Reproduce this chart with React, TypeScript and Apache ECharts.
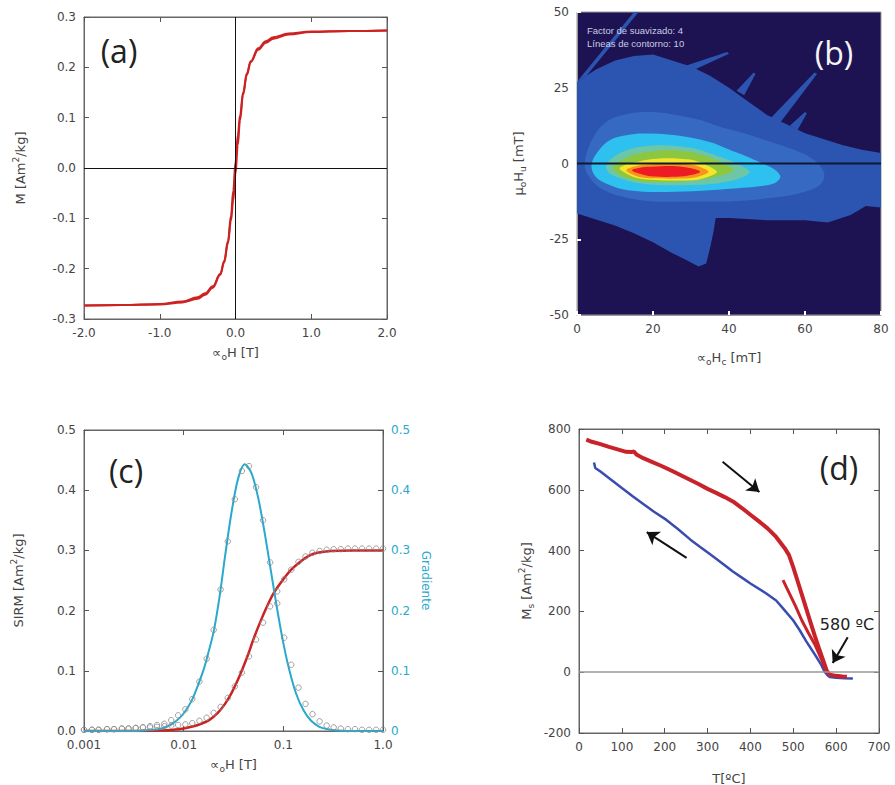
import React, { useEffect, useRef } from "react";
import * as echarts from "echarts";

// ---------- Panel (a): hysteresis loop ----------
const aH = [-2, -1.5, -1.0, -0.7, -0.5, -0.4, -0.3, -0.2, -0.15, -0.1, -0.06, -0.03, 0, 0.03, 0.06, 0.1, 0.15, 0.2, 0.3, 0.4, 0.5, 0.7, 1.0, 1.5, 2];
const aMDown = [-0.273, -0.272, -0.27, -0.265, -0.257, -0.249, -0.235, -0.21, -0.185, -0.145, -0.095, -0.045, 0.012, 0.065, 0.105, 0.15, 0.188, 0.212, 0.238, 0.252, 0.26, 0.267, 0.271, 0.272, 0.273];
const aMUp = [-0.273, -0.272, -0.271, -0.267, -0.26, -0.252, -0.238, -0.212, -0.188, -0.15, -0.105, -0.065, -0.012, 0.045, 0.095, 0.145, 0.185, 0.21, 0.235, 0.249, 0.257, 0.265, 0.27, 0.272, 0.273];

// ---------- Panel (b): FORC diagram contour levels (Hc, Hu in mT) ----------
const bOuter = [[0, 27], [5, 31], [10, 34], [15, 35.5], [20, 36], [25, 34], [30, 32], [35, 29], [40, 25], [45, 20.5], [50, 16], [55, 13], [60, 10], [65, 8], [70, 6], [75, 4.5], [80, 3.5], [80, -14.5], [76, -14], [72, -17], [66, -19.5], [60, -18.7], [50, -18.7], [40, -18], [36.5, -18], [36, -22], [35, -28], [34, -33], [32, -34], [29, -32], [25, -29.5], [20, -26], [15, -23], [10, -20.5], [5, -18.5], [0, -16.5]];
const bStreakA = [[0, 27], [15, 50], [16.2, 50], [2.5, 29]];
const bStreakB = [[51, 15], [62.5, 30], [63.2, 29.6], [53.5, 13.5]];
const bStreakC = [[28, 32], [39.5, 36.8], [40, 36.2], [31, 31]];
const bStreakD = [[42, 24], [46.5, 30], [47, 29.6], [44, 22.5]];
const bStreakE = [[56, 12.5], [60, 17], [60.5, 16.6], [58, 11]];
const bLevel2 = [[2, 0], [4, 8], [8, 14], [14, 16.5], [20, 17], [26, 16], [32, 14.5], [38, 12], [44, 10], [50, 7.5], [56, 5], [62, 1.5], [65, -3], [64, -7], [58, -10], [50, -11.5], [40, -12.5], [30, -12.5], [20, -12.5], [12, -11], [6, -8], [3, -4]];
const bLevel3 = [[3.8, -0.5], [5.5, 4], [8.6, 7.7], [13, 9.3], [17.4, 9.9], [26, 9.3], [34.9, 7.1], [40, 4.6], [43.7, 2.8], [48.9, 0], [52, -2], [53.5, -4.4], [52, -6.5], [48, -7.5], [43.7, -8], [34.9, -8.8], [26, -9.3], [17.4, -9.3], [12, -8.5], [8.6, -7.1], [5, -4.5]];
const bLevel4 = [[7.7, -0.5], [10, 2.5], [13, 4.4], [17, 5.5], [21.7, 6], [26, 5.8], [30.5, 5], [34, 3.8], [37.5, 2.2], [42, 0], [45.4, -2.7], [43, -4.8], [39.3, -6], [35, -6.8], [30.5, -7.1], [21.7, -7.1], [17, -6.6], [13, -5.5], [8.6, -3.3]];
const bLevel5 = [[9.4, -1.1], [12, 1.2], [14.9, 2.8], [18.5, 3.8], [22.8, 4.4], [27, 4.2], [31.6, 3.3], [36, 1.5], [39, -0.2], [41.2, -2.2], [38.5, -3.8], [34.9, -4.9], [30, -5.7], [26, -6], [17.4, -6], [14, -5.2], [11.2, -3.8]];
const bLevel6 = [[11.2, -1.6], [13, -0.3], [15.8, 0.5], [19, 1.3], [22.8, 1.7], [27, 1.6], [30.7, 1.1], [34, -0.5], [36.8, -2.8], [34, -4.6], [30.7, -5.5], [21.7, -5.5], [17, -5.1], [14.7, -4.4], [12.5, -3]];
const bLevel7 = [[13, -2.2], [15, -1], [17.4, -0.5], [24.4, 0], [30.7, -0.5], [33, -1.5], [34.6, -2.7], [33, -3.9], [30.7, -4.7], [25, -5], [21.7, -4.9], [17, -4.6], [14.6, -3.6]];
const bLevel8 = [[14.5, -2.2], [16.5, -1.4], [19.3, -1.1], [26.1, -0.9], [30, -1.6], [32.4, -2.7], [30, -3.8], [26.1, -4.4], [19.3, -4.2], [16.5, -3.4]];
const bPolys = [bOuter, bStreakA, bStreakB, bStreakC, bStreakD, bStreakE, bLevel2, bLevel3, bLevel4, bLevel5, bLevel6, bLevel7, bLevel8];
const bNotes = ["Factor de suavizado: 4", "Líneas de contorno: 10"];

// ---------- Panel (c): IRM acquisition + gradient ----------
const cFitH = [0.001, 0.003, 0.006, 0.009, 0.012, 0.015, 0.018, 0.022, 0.026, 0.03, 0.035, 0.04, 0.045, 0.05, 0.06, 0.07, 0.08, 0.1, 0.12, 0.15, 0.18, 0.22, 0.3, 0.5, 1.0];
const cIrmFit = [0, 0, 0.001, 0.003, 0.007, 0.012, 0.018, 0.03, 0.045, 0.062, 0.085, 0.108, 0.13, 0.152, 0.185, 0.21, 0.229, 0.252, 0.268, 0.282, 0.291, 0.296, 0.299, 0.3, 0.3];
const cGradH = [0.001, 0.003, 0.005, 0.006, 0.007, 0.008, 0.009, 0.01, 0.012, 0.014, 0.016, 0.018, 0.02, 0.023, 0.026, 0.03, 0.035, 0.041, 0.048, 0.056, 0.065, 0.075, 0.087, 0.1, 0.115, 0.135, 0.16, 0.19, 0.23, 0.28, 0.35, 0.5, 1.0];
const cGradFit = [0, 0, 0.002, 0.004, 0.008, 0.014, 0.021, 0.029, 0.05, 0.077, 0.104, 0.135, 0.165, 0.225, 0.29, 0.36, 0.418, 0.443, 0.428, 0.387, 0.329, 0.266, 0.201, 0.146, 0.101, 0.061, 0.034, 0.017, 0.007, 0.003, 0.001, 0, 0];
const cPtH = [0.001, 0.0012, 0.0014, 0.0017, 0.002, 0.0024, 0.0028, 0.0033, 0.0039, 0.0046, 0.0054, 0.0064, 0.0075, 0.0088, 0.0104, 0.0122, 0.0144, 0.017, 0.02, 0.0235, 0.0277, 0.0326, 0.0384, 0.0452, 0.0532, 0.0626, 0.0737, 0.0868, 0.102, 0.12, 0.142, 0.167, 0.196, 0.231, 0.272, 0.32, 0.377, 0.444, 0.523, 0.616, 0.725, 0.853, 1.0];
const cIrmPts = [0.002, 0.002, 0.002, 0.003, 0.003, 0.004, 0.004, 0.005, 0.006, 0.006, 0.007, 0.008, 0.009, 0.01, 0.011, 0.013, 0.017, 0.022, 0.03, 0.04, 0.055, 0.074, 0.097, 0.124, 0.152, 0.18, 0.207, 0.232, 0.252, 0.268, 0.281, 0.29, 0.296, 0.299, 0.301, 0.302, 0.302, 0.303, 0.303, 0.303, 0.303, 0.303, 0.303];
const cGradPts = [0.002, 0.002, 0.002, 0.003, 0.003, 0.004, 0.004, 0.005, 0.006, 0.008, 0.01, 0.012, 0.018, 0.026, 0.036, 0.053, 0.082, 0.12, 0.168, 0.235, 0.315, 0.385, 0.432, 0.44, 0.405, 0.35, 0.28, 0.212, 0.155, 0.11, 0.072, 0.045, 0.028, 0.016, 0.009, 0.006, 0.004, 0.003, 0.003, 0.002, 0.002, 0.002, 0.002];
const cXTickLabels = ["0.001", "0.01", "0.1", "1.0"];

// ---------- Panel (d): thermomagnetic curve ----------
const dHeatT = [17, 30, 50, 70, 90, 110, 122, 128, 135, 150, 170, 190, 204, 220, 240, 260, 280, 300, 320, 340, 360, 380, 400, 420, 440, 460, 480, 490, 500, 510, 520, 530, 540, 550, 560, 570, 578, 585, 600, 615, 625];
const dHeatM = [765, 758, 750, 741, 733, 725, 724, 726, 715, 704, 692, 680, 671, 660, 646, 632, 618, 603, 590, 576, 561, 540, 518, 496, 473, 445, 408, 385, 345, 300, 255, 210, 165, 120, 78, 38, 5, -8, -12, -14, -15];
const dHeat2T = [476, 490, 505, 520, 535, 550, 565, 577];
const dHeat2M = [303, 262, 218, 170, 130, 92, 45, 2];
const dCoolT = [35, 38, 50, 75, 100, 126, 150, 175, 204, 230, 260, 282, 310, 340, 359, 380, 400, 437, 460, 476, 500, 515, 530, 554, 565, 573, 580, 585, 600, 620, 639];
const dCoolM = [690, 672, 660, 633, 606, 578, 553, 528, 501, 472, 436, 413, 384, 352, 331, 311, 292, 259, 236, 210, 170, 138, 102, 50, 25, 2, -10, -16, -18, -20, -21];
const dArrows = [
  [[335, 692], [421, 593]],
  [[251, 376], [158, 461]],
  [[627, 115], [592, 30]],
];
const dCurieLabel = "580 ºC";

const panelLetters = ["(a)", "(b)", "(c)", "(d)"];

const zip = (xs: number[], ys: number[]) => xs.map((x, i) => [x, ys[i]]);

const FONT = "DejaVu Sans";
const TXT = "#444";
const TICK = { show: true, inside: true, length: 5, lineStyle: { color: "#555", width: 1 } };
const LBL = { color: TXT, fontSize: 12, fontFamily: FONT };
const rich = {
  sub: { fontSize: 9, fontFamily: FONT, color: TXT, verticalAlign: "bottom", lineHeight: 18 },
  sup: { fontSize: 9, fontFamily: FONT, color: TXT, verticalAlign: "top", lineHeight: 18 },
};
const NAME = { color: TXT, fontSize: 13, fontFamily: FONT, lineHeight: 18, rich };
const LINE = { show: true, onZero: false, lineStyle: { color: "#666", width: 1 } };

const base = (o: any) => ({
  axisLine: LINE,
  splitLine: { show: false },
  axisTick: TICK,
  axisLabel: LBL,
  nameLocation: "middle",
  nameMoveOverlap: false,
  nameTextStyle: NAME,
  ...o,
});
const mirror = (o: any) => ({
  axisLine: LINE,
  splitLine: { show: false },
  axisTick: TICK,
  axisLabel: { show: false },
  ...o,
});

const bColors = ["#2c55b1", "#2c55b1", "#2c55b1", "#2c55b1", "#2c55b1", "#2c55b1", "#3669c2", "#2ec0ee", "#6dc7a6", "#8dc63f", "#f3e52b", "#f7941e", "#ed1c24"];
const WHITE_TICK = { show: true, inside: true, length: 4, lineStyle: { color: "#fff", width: 2 } };
const B_LINE = { show: true, onZero: false, lineStyle: { color: "#999", width: 1 } };

export default function App() {
  const ref = useRef<HTMLDivElement>(null);
  useEffect(() => {
    document.body.style.margin = "0";
    const chart = echarts.init(ref.current!, null, { renderer: "svg" });
    const grids = [
      { left: 84, top: 17, width: 303, height: 302, show: true, borderColor: "#666", borderWidth: 1, backgroundColor: "transparent" },
      { left: 577, top: 12, width: 304, height: 303, show: true, borderColor: "#999", borderWidth: 1, backgroundColor: "#1d1352" },
      { left: 84, top: 430, width: 299, height: 301, show: true, borderColor: "#666", borderWidth: 1, backgroundColor: "transparent" },
      { left: 579, top: 429, width: 300, height: 304, show: true, borderColor: "#666", borderWidth: 1, backgroundColor: "transparent" },
    ].map((g) => ({ ...g, containLabel: false, outerBoundsMode: "none" }));

    const option: any = {
      animation: false,
      backgroundColor: "#fff",
      grid: grids,
      xAxis: [
        base({ gridIndex: 0, type: "value", min: -2, max: 2, interval: 1, name: "∝{sub|o}H [T]", nameGap: 24, axisLabel: { ...LBL, formatter: (v: number) => v.toFixed(1) } }),
        mirror({ gridIndex: 0, type: "value", min: -2, max: 2, interval: 1, position: "top" }),
        base({ gridIndex: 1, type: "value", min: 0, max: 80, interval: 20, name: "∝{sub|o}H{sub|c} [mT]", nameGap: 33, axisLine: B_LINE, axisTick: WHITE_TICK }),
        base({ gridIndex: 2, type: "log", logBase: 10, min: 0.001, max: 1, name: "∝{sub|o}H [T]", nameGap: 24, axisLabel: { ...LBL, formatter: (_v: number, i: number) => cXTickLabels[i] ?? "" } }),
        mirror({ gridIndex: 2, type: "log", logBase: 10, min: 0.001, max: 1, position: "top" }),
        base({ gridIndex: 3, type: "value", min: 0, max: 700, interval: 100, name: "T[ºC]", nameGap: 36 }),
        mirror({ gridIndex: 3, type: "value", min: 0, max: 700, interval: 100, position: "top" }),
      ],
      yAxis: [
        base({ gridIndex: 0, type: "value", min: -0.3, max: 0.3, interval: 0.1, name: "M [Am{sup|2}/kg]", nameGap: 55, axisLabel: { ...LBL, formatter: (v: number) => v.toFixed(1) } }),
        mirror({ gridIndex: 0, type: "value", min: -0.3, max: 0.3, interval: 0.1, position: "right" }),
        base({ gridIndex: 1, type: "value", min: -50, max: 50, interval: 25, name: "μ{sub|o}H{sub|u} [mT]", nameGap: 50, axisLine: B_LINE, axisTick: WHITE_TICK }),
        base({ gridIndex: 2, type: "value", min: 0, max: 0.5, interval: 0.1, name: "SIRM [Am{sup|2}/kg]", nameGap: 57, axisLabel: { ...LBL, formatter: (v: number) => v.toFixed(1) } }),
        base({
          gridIndex: 2, type: "value", min: 0, max: 0.5, interval: 0.1, position: "right", name: "Gradiente", nameGap: 34, nameRotate: -90,
          nameTextStyle: { ...NAME, color: "#29a9cc", fontSize: 12 },
          axisLabel: { ...LBL, color: "#29a9cc", formatter: (v: number) => (v === 0 ? "0" : v.toFixed(1)) },
        }),
        base({ gridIndex: 3, type: "value", min: -200, max: 800, interval: 200, name: "M{sub|s} [Am{sup|2}/kg]", nameGap: 44 }),
        mirror({ gridIndex: 3, type: "value", min: -200, max: 800, interval: 200, position: "right" }),
      ],
      graphic: [
        { type: "text", x: 119, y: 50, style: { text: panelLetters[0], fontSize: 32, fontFamily: "Open Sans", fill: "#222", textAlign: "center", textVerticalAlign: "middle", align: "center", verticalAlign: "middle" } },
        { type: "text", x: 834, y: 52, z: 100, style: { text: panelLetters[1], fontSize: 32, fontFamily: "Open Sans", fill: "#f4f4f4", textAlign: "center", textVerticalAlign: "middle", align: "center", verticalAlign: "middle" } },
        { type: "text", x: 126, y: 470, style: { text: panelLetters[2], fontSize: 32, fontFamily: "Open Sans", fill: "#222", textAlign: "center", textVerticalAlign: "middle", align: "center", verticalAlign: "middle" } },
        { type: "text", x: 839, y: 467, style: { text: panelLetters[3], fontSize: 32, fontFamily: "Open Sans", fill: "#222", textAlign: "center", textVerticalAlign: "middle", align: "center", verticalAlign: "middle" } },
        { type: "text", x: 587, y: 30, z: 100, style: { text: bNotes[0], fontSize: 9.5, fontFamily: "Liberation Sans", fill: "#c9cce6", textVerticalAlign: "middle", verticalAlign: "middle" } },
        { type: "text", x: 587, y: 43, z: 100, style: { text: bNotes[1], fontSize: 9.5, fontFamily: "Liberation Sans", fill: "#c9cce6", textVerticalAlign: "middle", verticalAlign: "middle" } },
        { type: "text", x: 847, y: 624, style: { text: dCurieLabel, fontSize: 16, fontFamily: FONT, fill: "#222", textAlign: "center", textVerticalAlign: "middle", align: "center", verticalAlign: "middle" } },
      ],
      series: [
        // (a)
        {
          type: "line", xAxisIndex: 0, yAxisIndex: 0, data: zip(aH, aMDown), showSymbol: false, smooth: 0.4, smoothMonotone: "x",
          lineStyle: { color: "#cc2222", width: 2 }, z: 3,
          markLine: {
            silent: true, symbol: ["none", "none"], label: { show: false },
            lineStyle: { color: "#111", width: 1, type: "solid" },
            data: [{ xAxis: 0 }, { yAxis: 0 }],
          },
        },
        { type: "line", xAxisIndex: 0, yAxisIndex: 0, data: zip(aH, aMUp), showSymbol: false, smooth: 0.4, smoothMonotone: "x", lineStyle: { color: "#cc2222", width: 2 }, z: 3 },
        // (b)
        {
          type: "custom", xAxisIndex: 2, yAxisIndex: 2, clip: true, z: 1,
          data: bPolys.map((p) => p[0]),
          renderItem: (params: any, api: any) => {
            const i = params.dataIndex;
            const pts = bPolys[i].map((p) => api.coord(p));
            return { type: "polygon", shape: { points: pts, smooth: i >= 6 ? 0.35 : 0 }, style: { fill: bColors[i] } };
          },
        },
        { type: "line", xAxisIndex: 2, yAxisIndex: 2, data: [[0, 0], [80, 0]], showSymbol: false, lineStyle: { color: "#0b1a30", width: 2 }, z: 5 },
        // (c)
        { type: "line", xAxisIndex: 3, yAxisIndex: 3, data: zip(cFitH, cIrmFit), showSymbol: false, smooth: 0.3, lineStyle: { color: "#cc2222", width: 2.5 }, z: 2 },
        { type: "line", xAxisIndex: 3, yAxisIndex: 4, data: zip(cGradH, cGradFit), showSymbol: false, smooth: 0.3, lineStyle: { color: "#29a9cc", width: 2 }, z: 2 },
        { type: "scatter", xAxisIndex: 3, yAxisIndex: 3, data: zip(cPtH, cIrmPts), symbol: "circle", symbolSize: 5.5, itemStyle: { color: "rgba(255,255,255,0)", borderColor: "#8a8a8a", borderWidth: 1 }, z: 4 },
        { type: "scatter", xAxisIndex: 3, yAxisIndex: 4, data: zip(cPtH, cGradPts), symbol: "circle", symbolSize: 5.5, itemStyle: { color: "rgba(255,255,255,0)", borderColor: "#8a8a8a", borderWidth: 1 }, z: 4 },
        // (d)
        {
          type: "line", xAxisIndex: 5, yAxisIndex: 5, data: zip(dCoolT, dCoolM), showSymbol: false, lineStyle: { color: "#3a4cb0", width: 2.5 }, z: 3,
          markLine: {
            silent: true, symbol: ["none", "none"], label: { show: false },
            lineStyle: { color: "#999", width: 1.5, type: "solid" },
            data: [{ yAxis: 0 }],
          },
        },
        {
          type: "line", xAxisIndex: 5, yAxisIndex: 5, data: zip(dHeatT, dHeatM), showSymbol: false, lineStyle: { color: "#c8232a", width: 4 }, z: 4,
          markLine: {
            silent: true, symbol: ["none", "arrow"], symbolSize: 12, label: { show: false },
            lineStyle: { color: "#111", width: 2, type: "solid" },
            data: dArrows.map(([a, b]) => [{ coord: a }, { coord: b }]),
          },
        },
        { type: "line", xAxisIndex: 5, yAxisIndex: 5, data: zip(dHeat2T, dHeat2M), showSymbol: false, lineStyle: { color: "#c8232a", width: 3 }, z: 4 },
      ],
    };
    chart.setOption(option);
    return () => chart.dispose();
  }, []);
  return <div ref={ref} style={{ width: 895, height: 785 }} />;
}
